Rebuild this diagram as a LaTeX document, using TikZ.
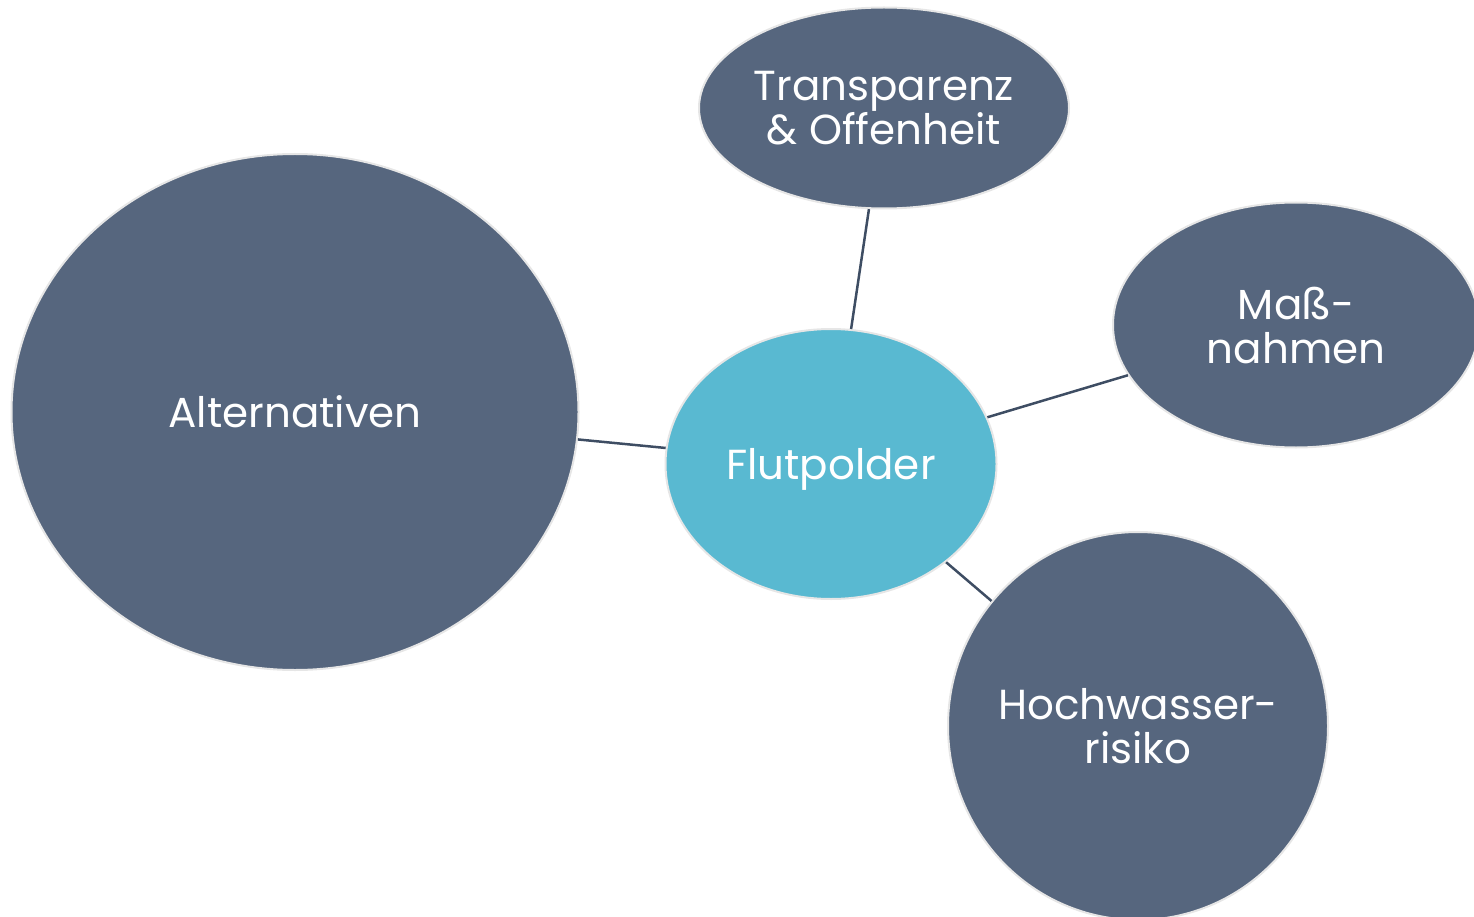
\documentclass[tikz,border=0pt]{standalone}
\usepackage{fontspec}
\setmainfont{Poppins}
\usetikzlibrary{shapes.geometric}
\definecolor{slate}{HTML}{56667E}
\definecolor{cyanfill}{HTML}{59B9D1}
\definecolor{rim}{HTML}{E6E6E6}
\definecolor{linkc}{HTML}{3E4D63}
\tikzset{
  bubble/.style={ellipse, draw=rim, line width=2pt, fill=slate, text=white,
    inner sep=-12pt, align=center, font=\fontsize{42}{44}\selectfont},
  hub/.style={bubble, fill=cyanfill},
  link/.style={draw=linkc, line width=2.5pt}
}
\begin{document}
\begin{tikzpicture}[x=1pt,y=-1pt]
\useasboundingbox (0,0) rectangle (1474,917);
\clip (0,0) rectangle (1474,917);
\node[hub, minimum width=331pt, minimum height=270pt, text depth=0pt] (flut) at (831,464) {Flutpolder};
\node[bubble, minimum width=567pt, minimum height=516pt] (alt) at (295,412) {Alternativen};
\node[bubble, minimum width=370pt, minimum height=201pt] (trans) at (884,108) {Transparenz\\\& Offenheit};
\node[bubble, minimum width=366pt, minimum height=245pt] (mass) at (1296,325) {Maß-\\nahmen};
\node[bubble, minimum width=380pt, minimum height=388pt] (hoch) at (1138,726) {Hochwasser-\\risiko};
\draw[link] (trans) -- (flut);
\draw[link] (flut) -- (mass);
\draw[link] (alt) -- (flut);
\draw[link] (flut) -- (hoch);
\end{tikzpicture}
\end{document}
